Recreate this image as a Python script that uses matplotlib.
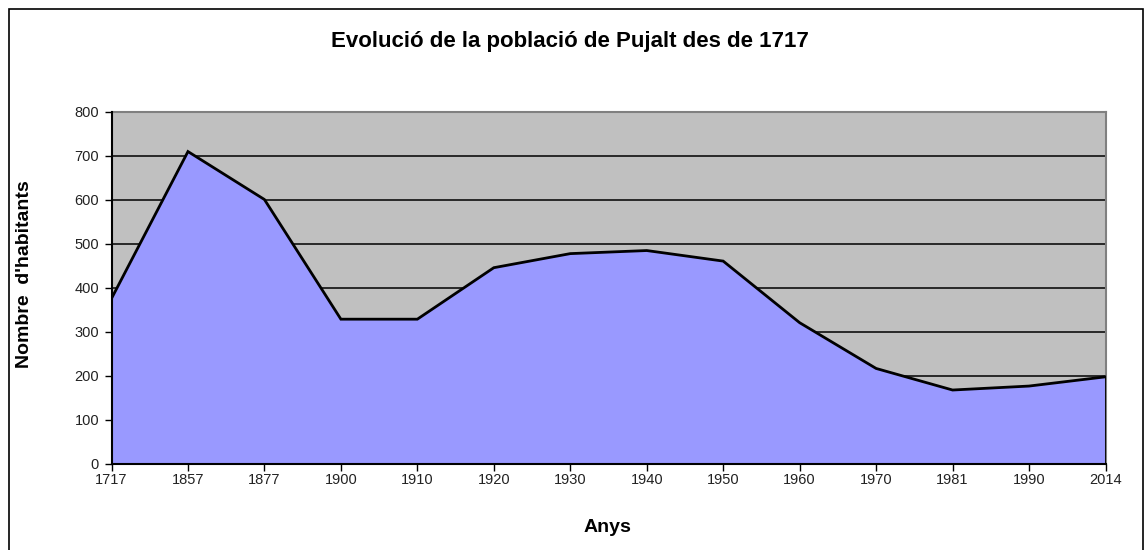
import matplotlib
matplotlib.use("Agg")
import matplotlib.pyplot as plt
from matplotlib.patches import Rectangle

years = ["1717", "1857", "1877", "1900", "1910", "1920", "1930", "1940",
         "1950", "1960", "1970", "1981", "1990", "2014"]
population = [375, 709, 600, 328, 328, 445, 477, 484, 460, 320, 216, 167, 176, 197]
y_ticks = [0, 100, 200, 300, 400, 500, 600, 700, 800]

title = "Evolució de la població de Pujalt des de 1717"
xlabel = "Anys"
ylabel = "Nombre  d'habitants"

plt.rcParams['font.family'] = ['Liberation Sans', 'DejaVu Sans']

W, H = 1145, 550
fig = plt.figure(figsize=(W / 100, H / 100), dpi=100)
fig.patch.set_facecolor("white")

# outer border
fig.patches.append(Rectangle((8.5 / W, -0.01), (1143 - 8.5) / W, 1.01 - 8.5 / H,
                             transform=fig.transFigure, fill=False,
                             edgecolor="black", linewidth=1.2))

left, right, top, bottom = 111.5, 1105.5, 111.5, 463.5
ax = fig.add_axes([left / W, 1 - bottom / H, (right - left) / W, (bottom - top) / H])
ax.set_facecolor("#C0C0C0")

x = list(range(len(years)))
ax.fill_between(x, population, 0, color="#9999FF", linewidth=0, zorder=2)
ax.plot(x, population, color="black", linewidth=2, zorder=3, solid_joinstyle="miter")
ax.plot([x[-1], x[-1]], [0, population[-1]], color="black", linewidth=2, zorder=3)

ax.set_xlim(0, len(years) - 1)
ax.set_ylim(0, 800)
ax.set_yticks(y_ticks)
ax.set_yticklabels([str(v) for v in y_ticks])
ax.set_xticks(x)
ax.set_xticklabels(years)
ax.yaxis.grid(True, color="black", linewidth=1.1, zorder=1)
ax.set_axisbelow(True)

for s in ["top", "right"]:
    ax.spines[s].set_color("#808080")
    ax.spines[s].set_linewidth(1.5)
for s in ["left", "bottom"]:
    ax.spines[s].set_color("black")
    ax.spines[s].set_linewidth(1.5)
    ax.spines[s].set_zorder(4)

ax.tick_params(axis="both", direction="out", length=5, width=1, color="black",
               labelsize=10.5, labelcolor="#222222")
ax.tick_params(axis="x", pad=2)
ax.tick_params(axis="y", pad=4)

fig.text(570 / W, 1 - 42 / H, title, ha="center", va="center",
         fontsize=16, fontweight="bold")
fig.text(607 / W, 1 - 527 / H, xlabel, ha="center", va="center",
         fontsize=14, fontweight="bold")
fig.text(25 / W, 1 - 274 / H, ylabel, ha="center", va="center", rotation=90,
         fontsize=14, fontweight="bold")

fig.savefig("out.png", dpi=100)
